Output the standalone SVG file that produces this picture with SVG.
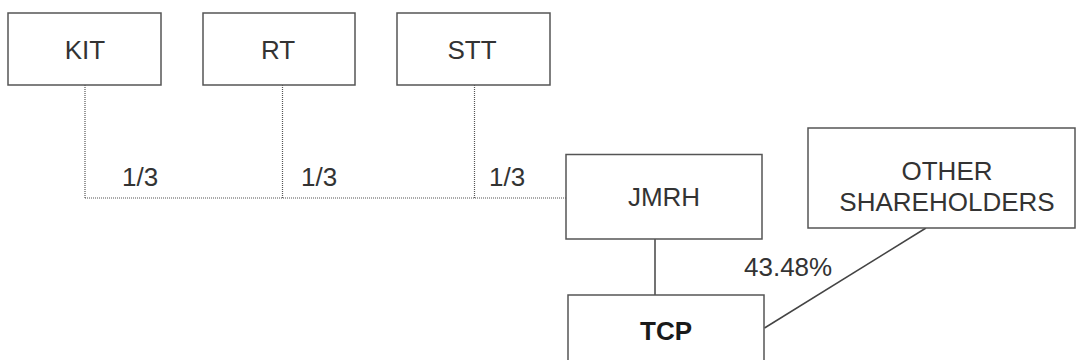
<svg xmlns="http://www.w3.org/2000/svg" width="1077" height="360" viewBox="0 0 1077 360">
<style>
.box{fill:#fff;stroke:#555;stroke-width:1.5}
.t{font-family:"Liberation Sans",Arial,sans-serif;font-size:26px;fill:#333}
.c{text-anchor:middle}
.b{font-weight:bold;fill:#1a1a1a}
.dot{fill:none;stroke:#555;stroke-width:1.2;stroke-dasharray:1 1}
.sol{fill:none;stroke:#444;stroke-width:1.5}
</style>
<rect width="1077" height="360" fill="#fff"/>
<g id="connectors">
<path class="dot" d="M85 85V198M282.5 85V198M474.5 85V198M85 198H566"/>
<path class="sol" d="M655 239V295"/>
<path class="sol" d="M764.5 328L926 228" stroke-width="1.2"/>
</g>
<g id="labels">
<text class="t" x="122" y="186">1/3</text>
<text class="t" x="301" y="186">1/3</text>
<text class="t" x="489" y="186">1/3</text>
<text class="t" x="744" y="276">43.48%</text>
</g>
<g id="KIT"><rect class="box" x="8" y="13" width="153" height="72"/><text class="t c" x="85" y="59">KIT</text></g>
<g id="RT"><rect class="box" x="203" y="13" width="152" height="72"/><text class="t c" x="278" y="59">RT</text></g>
<g id="STT"><rect class="box" x="397" y="13" width="153" height="72"/><text class="t c" x="472" y="59">STT</text></g>
<g id="JMRH"><rect class="box" x="566" y="154.5" width="196" height="84.5"/><text class="t c" x="664" y="206">JMRH</text></g>
<g id="OTHER"><rect class="box" x="808" y="128" width="267" height="100"/><text class="t c" x="947" y="180">OTHER</text><text class="t c" x="947" y="211">SHAREHOLDERS</text></g>
<g id="TCP"><rect class="box" x="568" y="295" width="196" height="80"/><text class="t c b" x="666" y="340">TCP</text></g>
</svg>
